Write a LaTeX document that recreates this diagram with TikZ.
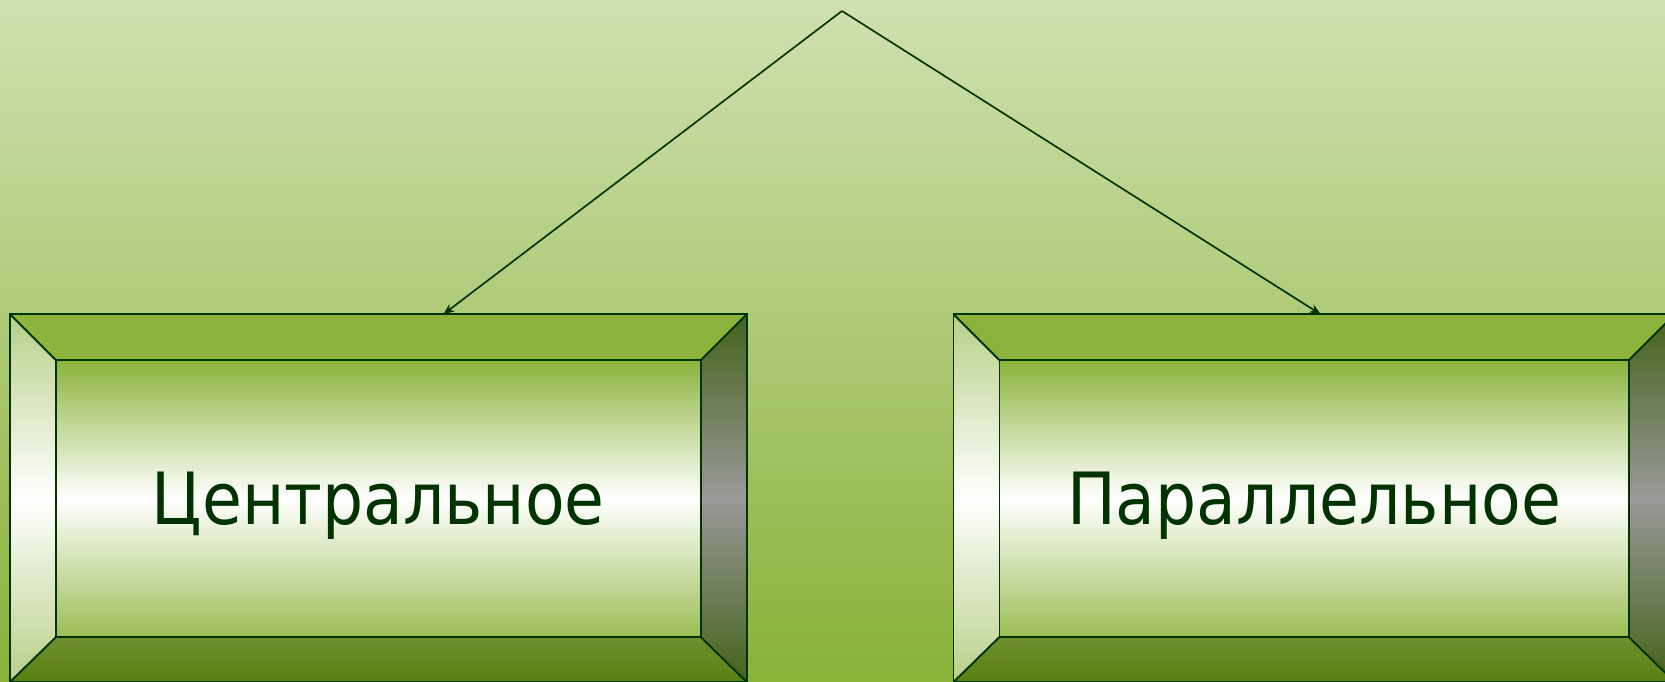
\documentclass[tikz,border=0pt]{standalone}
\usepackage{fontspec}
\setmainfont{DejaVu Sans}
\newfontfamily\boxfont[FakeStretch=0.9]{DejaVu Sans}
\usepackage{xcolor}
\usepackage{tikz}
\usetikzlibrary{positioning,arrows.meta,calc}
\definecolor{bgtop}{HTML}{D0E0B0}
\definecolor{bgbot}{HTML}{88B238}
\definecolor{leaf}{HTML}{8CB43C}
\definecolor{leaflow}{HTML}{9CBE56}
\definecolor{mossup}{HTML}{6E8E30}
\definecolor{moss}{HTML}{5A8010}
\definecolor{bark}{HTML}{45621A}
\definecolor{pale}{HTML}{B8CF88}
\definecolor{ink}{HTML}{003300}

\tikzset{
  panel/.style={minimum width=14.72cm, minimum height=7.34cm, inner sep=0pt, anchor=south west},
  edge/.style={ink, line width=1.1pt, line join=miter},
  caption/.style={ink, font=\boxfont\fontsize{41}{50}\selectfont},
}

\newcommand\bevelbox[1]{%
  \coordinate (#1-a) at ($(#1.north west)+(0.92,-0.92)$);
  \coordinate (#1-b) at ($(#1.north east)+(-0.92,-0.92)$);
  \coordinate (#1-c) at ($(#1.south east)+(-0.92,0.9)$);
  \coordinate (#1-d) at ($(#1.south west)+(0.92,0.9)$);
  \shade[top color=leaf, bottom color=leaflow, middle color=white] (#1-a) rectangle (#1-c);
  \fill[leaf] (#1.north west) -- (#1.north east) -- (#1-b) -- (#1-a) -- cycle;
  \shade[top color=mossup, bottom color=moss] (#1.south west) -- (#1-d) -- (#1-c) -- (#1.south east) -- cycle;
  \shade[top color=pale, bottom color=pale, middle color=white] (#1.north west) -- (#1-a) -- (#1-d) -- (#1.south west) -- cycle;
  \shade[top color=bark, bottom color=bark, middle color=gray!80] (#1.north east) -- (#1-b) -- (#1-c) -- (#1.south east) -- cycle;
  \draw[edge] (#1.north west) rectangle (#1.south east);
  \draw[edge] (#1-a) rectangle (#1-c);
  \draw[edge] (#1.north west) -- (#1-a) (#1.north east) -- (#1-b)
    (#1.south east) -- (#1-c) (#1.south west) -- (#1-d);
}

\begin{document}
\begin{tikzpicture}
        \useasboundingbox (0,0) rectangle (33.3,13.62);
        \shade[top color=bgtop, bottom color=bgbot] (0,0) rectangle (33.3,13.62);
        % two bevelled boxes
        \node[panel] (centr) at (0.2,-0.02) {};
        \node[panel, minimum width=14.41cm] (paral) at (19.07,-0.02) {};
        \bevelbox{centr}
        \bevelbox{paral}
        \node[caption] (centrtxt) at ($(centr.center)+(0,-0.15)$) {Центральное};
        \node[caption] (paraltxt) at ($(paral.center)+(0,-0.15)$) {Параллельное};
        % arrows from the top
        \coordinate (top) at (16.84,13.4);
        \draw[ink, line width=0.95pt, -{Stealth[length=2.2mm,width=1.8mm]}] (top) -- ($(centr.north)+(1.3,0)$);
        \draw[ink, line width=0.95pt, -{Stealth[length=2.2mm,width=1.8mm]}] (top) -- ($(paral.north)+(0.13,0)$);
      \end{tikzpicture}
\end{document}
